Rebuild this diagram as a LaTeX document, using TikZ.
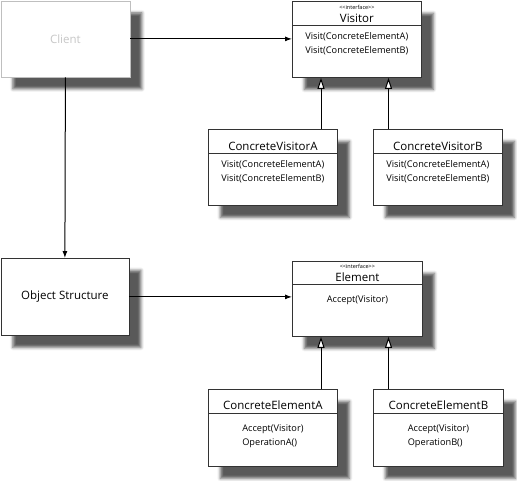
\documentclass[tikz,border=0pt]{standalone}
\usepackage{fontspec}
\setmainfont{Open Sans}
\usetikzlibrary{arrows.meta,calc,shadows.blur}
\begin{document}
\begin{tikzpicture}[x=1pt,y=-1pt,
  box/.style={draw=black!80,line width=0.8pt,fill=white,anchor=north west,
    inner sep=0pt,minimum width=129pt,minimum height=76pt,
    blur shadow={shadow xshift=12pt,shadow yshift=-12pt,shadow blur radius=3pt,shadow opacity=65}},
  ghost/.style={box,draw=black!25},
  divider/.style={draw=black!80,line width=0.8pt},
  title/.style={font=\fontsize{11.5}{13}\selectfont,inner sep=0pt},
  stereo/.style={font=\fontsize{5.5}{6}\selectfont,inner sep=0pt},
  ops/.style={font=\fontsize{9.2}{14}\selectfont,align=left,inner sep=0pt,anchor=north},
  assoc/.style={draw=black,line width=1pt,-{Latex[length=7pt,width=5pt]}},
  inherit/.style={draw=black,line width=1pt,-{Triangle[open,length=11pt,width=7pt,fill=white]}}]
\useasboundingbox (0,0) rectangle (517,480);

% boxes
\node[ghost] (client) at (0.5,0.5) {};
\node[box] (visitor) at (292,1) {};
\node[box] (cva) at (208,129) {};
\node[box] (cvb) at (373,129) {};
\node[box,minimum width=128pt,minimum height=77pt] (os) at (0.5,258) {};
\node[box,minimum width=130pt,minimum height=75pt] (element) at (292,261) {};
\node[box,minimum height=77pt] (cea) at (208,389) {};
\node[box,minimum width=130pt,minimum height=77pt] (ceb) at (373,389) {};

% compartment dividers
\draw[divider] ($(visitor.north west)+(0,24)$) -- ($(visitor.north east)+(0,24)$);
\draw[divider] ($(cva.north west)+(0,24)$) -- ($(cva.north east)+(0,24)$);
\draw[divider] ($(cvb.north west)+(0,24)$) -- ($(cvb.north east)+(0,24)$);
\draw[divider] ($(element.north west)+(0,23)$) -- ($(element.north east)+(0,23)$);
\draw[divider] ($(cea.north west)+(0,24)$) -- ($(cea.north east)+(0,24)$);
\draw[divider] ($(ceb.north west)+(0,24)$) -- ($(ceb.north east)+(0,24)$);

% texts
\node[title,text=black!22] (clienttxt) at (client.center) {Client};
\node[title] (ostxt) at (os.center) {Object Structure};

\node[stereo] (vst) at ($(visitor.north)+(0,6)$) {<\kern0pt<interface>\kern0pt>};
\node[title] (vname) at ($(visitor.north)+(0,17)$) {Visitor};
\node[ops] (vops) at ($(visitor.north)+(0,31)$) {Visit(ConcreteElementA)\\Visit(ConcreteElementB)};

\node[title] (cvaname) at ($(cva.north)+(0,17)$) {ConcreteVisitorA};
\node[ops] (cvaops) at ($(cva.north)+(0,31)$) {Visit(ConcreteElementA)\\Visit(ConcreteElementB)};
\node[title] (cvbname) at ($(cvb.north)+(0,17)$) {ConcreteVisitorB};
\node[ops] (cvbops) at ($(cvb.north)+(0,31)$) {Visit(ConcreteElementA)\\Visit(ConcreteElementB)};

\node[stereo] (est) at ($(element.north)+(0,5)$) {<\kern0pt<interface>\kern0pt>};
\node[title] (ename) at ($(element.north)+(0,16)$) {Element};
\node[ops] (eops) at ($(element.north)+(0,35)$) {Accept(Visitor)};

\node[title] (ceaname) at ($(cea.north)+(0,16)$) {ConcreteElementA};
\node[ops] (ceaops) at ($(cea.north)+(0,36)$) {Accept(Visitor)\\OperationA()};
\node[title] (cebname) at ($(ceb.north)+(0,16)$) {ConcreteElementB};
\node[ops] (cebops) at ($(ceb.north)+(0,36)$) {Accept(Visitor)\\OperationB()};

% associations
\draw[assoc] (client.east) -- (client.east -| visitor.west);
\draw[assoc] (client.south) -- (os.north);
\draw[assoc] (os.east) -- (os.east -| element.west);

% generalisations
\coordinate (xa) at (321,0);
\coordinate (xb) at (388.5,0);
\draw[inherit] (cva.north -| xa) -- (visitor.south -| xa);
\draw[inherit] (cvb.north -| xb) -- (visitor.south -| xb);
\draw[inherit] (cea.north -| xa) -- (element.south -| xa);
\draw[inherit] (ceb.north -| xb) -- (element.south -| xb);
\end{tikzpicture}
\end{document}
